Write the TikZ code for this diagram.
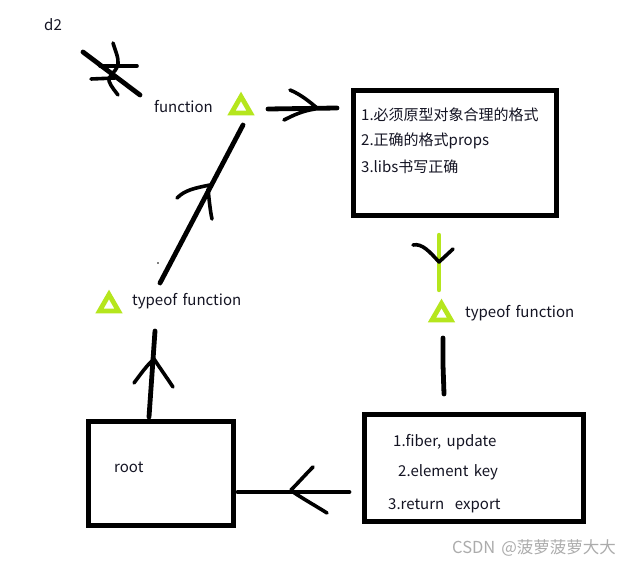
\documentclass[tikz,border=0pt]{standalone}
\usepackage{fontspec}
\setmainfont[WordSpace=1.6]{Noto Sans CJK SC}
\usetikzlibrary{shapes.geometric}
\definecolor{paintlime}{RGB}{181,230,29}
\definecolor{ink}{RGB}{20,20,35}
\definecolor{wm}{RGB}{172,172,172}
\begin{document}
\begin{tikzpicture}[x=1pt,y=-1pt,
  stroke/.style={line width=4.8pt, line cap=round, line join=round},
  barb/.style={line width=3.6pt, line cap=round, line join=round},
  boxx/.style={draw, line width=5pt, rectangle, inner sep=0pt},
  tri/.style={regular polygon, regular polygon sides=3, draw=paintlime, line width=4.8pt, minimum size=22pt, inner sep=0pt},
  lbl/.style={font=\fontsize{15}{18}\selectfont, text=ink, inner sep=0pt, anchor=base west},
]
\useasboundingbox[fill=white] (0,0) rectangle (631,564);

% boxes
\node[boxx, minimum width=203pt, minimum height=125pt] (b1) at (455,153) {};
\node[boxx, minimum width=219pt, minimum height=107pt] (b2) at (474,468) {};
\node[boxx, minimum width=145pt, minimum height=104pt] (root) at (161,473.5) {};

% triangles
\node[tri] (t1) at (241,107.5) {};
\node[tri] (t2) at (441.5,314.5) {};
\node[tri] (t3) at (109,305.5) {};

% labels
\node[lbl] (d2) at (44,31) {d2};
\node[lbl] (fn) at (154,113) {function};
\node[lbl] (tf3) at (132,305) {typeof function};
\node[lbl] (tf2) at (465,317) {typeof function};
\node[lbl] (l11) at (361,121) {1.必须原型对象合理的格式};
\node[lbl] (l12) at (361,146) {2.正确的格式props};
\node[lbl] (l13) at (361,172) {3.libs书写正确};
\node[lbl] (l21) at (393,446) {1.fiber, update};
\node[lbl] (l22) at (398,476) {2.element key};
\node[lbl] (l23) at (388,509) {3.return\ \ export};
\node[lbl] (rt) at (114,472) {root};
\node[lbl, text=wm, font=\fontsize{16.5}{19}\selectfont] (wmk) at (452,553) {CSDN @菠萝菠萝大大};

% connector end points
\coordinate (a1s) at (268,109);
\coordinate (a1e) at (337,108);
\coordinate (a2s) at (439,235);
\coordinate (a2e) at (439,290);
\coordinate (a3s) at (443,338);
\coordinate (a3e) at (444,394);
\coordinate (a4s) at (349,492);
\coordinate (a4e) at (238,492);
\coordinate (a5s) at (149,417);
\coordinate (a5e) at (155,331);
\coordinate (a6s) at (160,283);
\coordinate (a6e) at (243,125);

% function -> box 1
\draw[stroke] (a1s) -- (a1e);
\draw[barb] (290,90) .. controls (300,94) and (310,102) .. (317,108);
\draw[barb] (284,120) .. controls (294,115) and (302,111) .. (315,109);

% box 1 -> typeof (green)
\draw[line width=4.4pt, paintlime, line cap=round] (a2s) -- (a2e);
\draw[barb] (413,245) .. controls (422,243) and (430,252) .. (439,262) -- (453,249);

% typeof -> box 2
\draw[stroke] (a3s) -- (443,365) -- (a3e);

% box 2 -> root
\draw[stroke] (a4s) -- (a4e);
\draw[barb] (313,467) .. controls (305,475) and (298,483) .. (291,490);
\draw[barb] (293,492) .. controls (305,500) and (316,506) .. (327,513);

% root -> typeof
\draw[stroke] (a5s) -- (a5e);
\draw[barb] (134,383) .. controls (140,375) and (147,365) .. (154,359) .. controls (160,368) and (167,378) .. (173,387);

% typeof -> function
\draw[stroke] (a6s) -- (a6e);
\draw[barb] (177,198) .. controls (185,190) and (195,188) .. (210,185);
\draw[barb] (208,189) .. controls (209,198) and (210,210) .. (212,219);

% scribble
\draw[stroke] (83,52) -- (140,95);
\draw[barb] (100,66) -- (137,66);
\draw[barb] (91,79) -- (115,78);
\draw[barb] (113,43) .. controls (115,50) and (119,58) .. (118,65) .. controls (116,72) and (108,76) .. (109,81) .. controls (111,87) and (116,92) .. (118,95);

% stray dot
\fill[black] (158,263) circle (0.8pt);
\end{tikzpicture}
\end{document}
